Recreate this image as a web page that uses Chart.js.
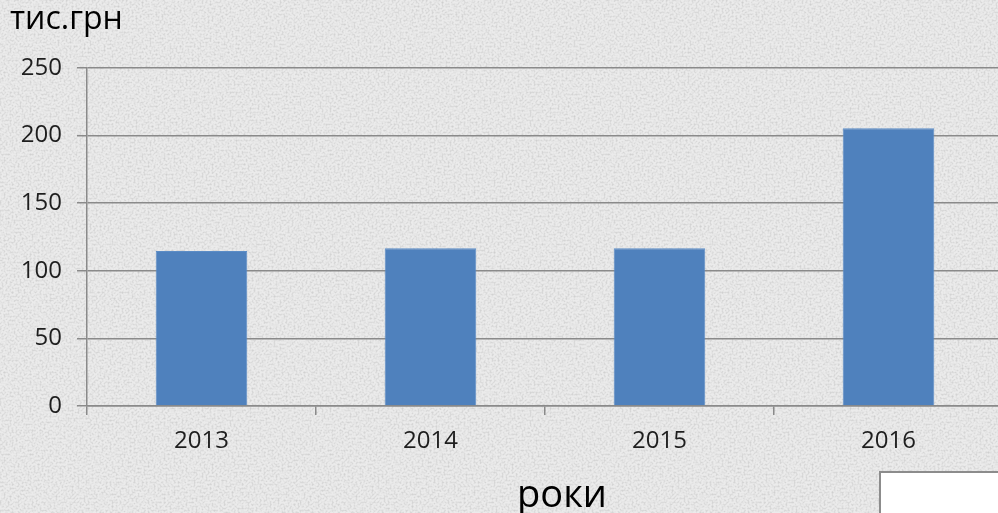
<!DOCTYPE html>
<html lang="uk">
<head>
    <meta charset="UTF-8">
    <title>тис.грн по роках</title>
    <style>
        html, body {
            margin: 0;
            padding: 0;
            width: 998px;
            height: 513px;
            overflow: hidden;
        }

        body {
            position: relative;
            background-color: #ebebeb;
            background-image: url("data:image/svg+xml,%3Csvg xmlns='http://www.w3.org/2000/svg' width='300' height='300'%3E%3Cfilter id='n'%3E%3CfeTurbulence type='fractalNoise' baseFrequency='0.5' numOctaves='3' seed='7'/%3E%3CfeColorMatrix values='0 0 0 0 0.5 0 0 0 0 0.5 0 0 0 0 0.5 0 0 0 -2.2 1.3'/%3E%3C/filter%3E%3Crect width='300' height='300' filter='url(%23n)' opacity='0.6'/%3E%3C/svg%3E");
            font-family: 'Open Sans', sans-serif;
        }

        /* the plot runs a few pixels past the right edge, as in the picture */
        .chart-box {
            position: absolute;
            left: 0;
            top: 0;
            width: 1003px;
            height: 513px;
        }

        /* white box in the bottom right corner */
        .corner-box {
            position: absolute;
            left: 879px;
            top: 471px;
            width: 130px;
            height: 60px;
            background: #ffffff;
            border: 2px solid #8c8c8c;
        }
    </style>
    <script src="https://cdn.jsdelivr.net/npm/chart.js"></script>
</head>
<body>
    <div class="chart-box">
        <canvas id="barChart" width="1003" height="513"></canvas>
    </div>
    <div class="corner-box"></div>

    <script>
        const years = ['2013', '2014', '2015', '2016'];
        const amounts = [114.6, 116.6, 116.6, 205.4];
        const yTicks = [0, 50, 100, 150, 200, 250];

        const unitLabel = 'тис.грн';
        const yearLabel = 'роки';

        const lineColor = '#8a8a8a';
        const textColor = '#1e1e1e';

        // axis captions drawn straight onto the canvas
        const captions = {
            id: 'captions',
            afterDraw(chart) {
                const ctx = chart.ctx;
                ctx.save();
                ctx.fillStyle = '#000000';
                ctx.textBaseline = 'alphabetic';

                ctx.font = "32px 'Open Sans'";
                ctx.textAlign = 'left';
                ctx.fillText(unitLabel, 10, 29);

                ctx.font = "38px 'Open Sans'";
                ctx.textAlign = 'center';
                ctx.fillText(yearLabel, 562, 507);
                ctx.restore();
            }
        };

        new Chart(document.getElementById('barChart'), {
            type: 'bar',
            data: {
                labels: years,
                datasets: [{
                    data: amounts,
                    backgroundColor: '#4f81bd',
                    borderColor: '#5b8cc6',
                    borderWidth: 1,
                    categoryPercentage: 1,
                    barPercentage: 0.4
                }]
            },
            options: {
                responsive: false,
                animation: false,
                layout: { padding: { top: 68, right: 0, left: 0, bottom: 0 } },
                plugins: {
                    legend: { display: false },
                    tooltip: { enabled: false }
                },
                scales: {
                    x: {
                        grid: {
                            offset: true,
                            drawOnChartArea: false,
                            drawTicks: true,
                            tickLength: 9,
                            color: lineColor,
                            lineWidth: 1.5
                        },
                        border: { display: true, color: lineColor, width: 1.5 },
                        ticks: {
                            color: textColor,
                            padding: 12,
                            font: { family: 'Open Sans', size: 24 }
                        },
                        afterFit(scale) { scale.height = 107; }
                    },
                    y: {
                        min: 0,
                        max: 250,
                        afterBuildTicks(scale) {
                            scale.ticks = yTicks.map(v => ({ value: v }));
                        },
                        grid: {
                            drawTicks: true,
                            tickLength: 10,
                            color: lineColor,
                            lineWidth: 1.5
                        },
                        border: { display: true, color: lineColor, width: 1.5 },
                        ticks: {
                            color: textColor,
                            padding: 15,
                            font: { family: 'Open Sans', size: 24 }
                        },
                        afterFit(scale) { scale.width = 87; }
                    }
                }
            },
            plugins: [captions]
        });
    </script>
</body>
</html>
